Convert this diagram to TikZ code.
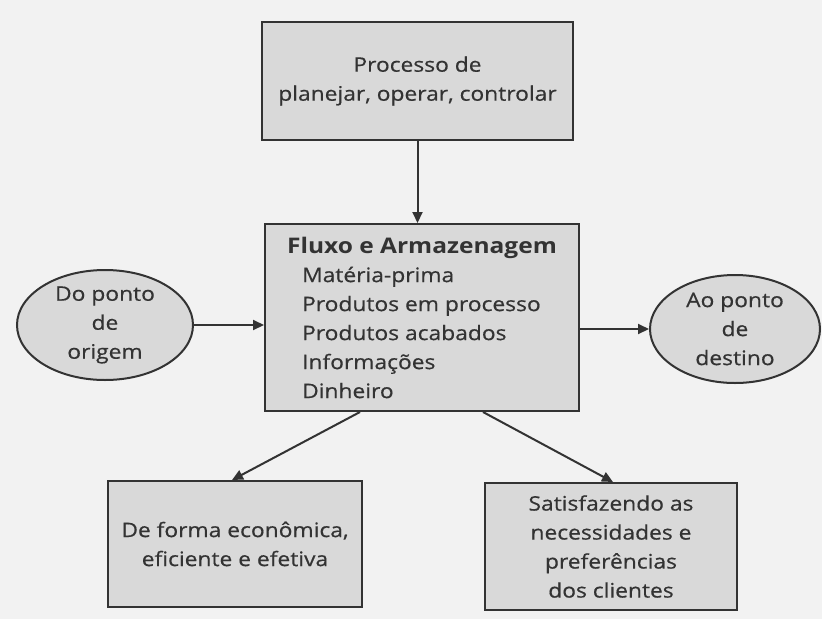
\documentclass[tikz,border=0pt]{standalone}
\usepackage{fontspec}
\setmainfont{Open Sans}[FakeStretch=1.14]
\newfontfamily\bodyfont{Open Sans}[FakeStretch=1.14, FakeBold=0.5]
\newfontfamily\titlefont{Open Sans}[FakeStretch=1.14]
\usetikzlibrary{shapes.geometric,arrows.meta}
\definecolor{ink}{HTML}{333333}
\definecolor{boxfill}{HTML}{D9D9D9}
\definecolor{page}{HTML}{F2F2F2}
\tikzset{
  box/.style={rectangle, draw=ink, line width=2pt, fill=boxfill, inner sep=0pt,
    text=ink, align=center, font=\bodyfont\fontsize{20}{29}\selectfont},
  oval/.style={ellipse, draw=ink, line width=2pt, fill=boxfill, inner sep=0pt,
    text=ink, align=center, font=\bodyfont\fontsize{20}{29}\selectfont},
  conn/.style={draw=ink, line width=2pt, -{Triangle[length=11pt,width=10pt]}}
}
\begin{document}
\begin{tikzpicture}[x=1pt,y=-1pt]
\fill[page] (0,0) rectangle (822,619);
\useasboundingbox (0,0) rectangle (822,619);

\node[box, minimum width=311pt, minimum height=118pt] (top) at (417.5,81)
  {Processo de\\planejar, operar, controlar};

\node[box, minimum width=314pt, minimum height=187pt, align=left] (main) at (422,317.5)
  {{\titlefont\bfseries\fontsize{21.5}{29}\selectfont Fluxo e Armazenagem}\\
   \hspace*{15pt}Matéria-prima\\
   \hspace*{15pt}Produtos em processo\\
   \hspace*{15pt}Produtos acabados\\
   \hspace*{15pt}Informações\\
   \hspace*{15pt}Dinheiro};

\node[oval, minimum width=176pt, minimum height=110pt] (orig) at (105,325)
  {Do ponto\\de\\origem};

\node[oval, minimum width=170pt, minimum height=108pt] (dest) at (735,329)
  {Ao ponto\\de\\destino};

\node[box, minimum width=254pt, minimum height=126pt] (econ) at (235,544)
  {De forma econômica,\\eficiente e efetiva};

\node[box, minimum width=252pt, minimum height=127pt] (satis) at (611,546.5)
  {Satisfazendo as\\necessidades e\\preferências\\dos clientes};

\draw[conn] (top.south) -- (top.south |- main.north);
\draw[conn] (orig.east) -- (orig.east -| main.west);
\draw[conn] (main.east |- dest.west) -- (dest.west);
\draw[conn] ([xshift=-62pt]main.south) -- ([xshift=-3pt]econ.north);
\draw[conn] ([xshift=61pt]main.south) -- ([xshift=2pt]satis.north);
\end{tikzpicture}
\end{document}
